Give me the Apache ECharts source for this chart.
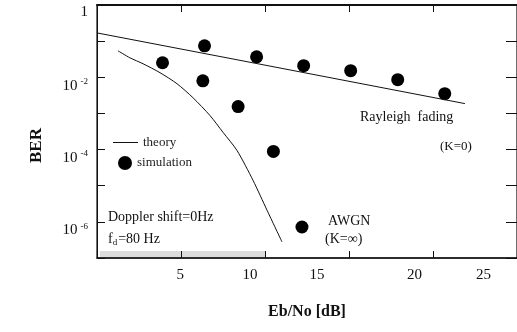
<!DOCTYPE html>
<html>
<head>
<meta charset="utf-8">
<script src="https://cdn.jsdelivr.net/npm/echarts@6/dist/echarts.min.js"></script>
<style>
html, body { margin: 0; padding: 0; background: #fff; }
#chart { width: 517px; height: 332px; }
</style>
</head>
<body>
<div id="chart"></div>
<script>
const serif = '"Liberation Serif", "DejaVu Serif", serif';

// x axis: tick labels sit a bit off the tick marks in the scan
const xTickLabels = ['5', '10', '15', '20', '25'];
const xLabelAt = [4.95, 9.1, 13.1, 18.9, 23.0];
const xTicks = [5, 10, 15, 20];
// y axis: labelled decades (exponents)
const yLabelExp = [0, -2, -4, -6];

// theory curves
const rayleighTheoryX = [0, 10, 21.9];
const rayleighTheoryBer = [0.169, 0.0217, 0.00187];
const awgnTheoryX = [1.25, 1.96, 2.74, 3.75, 4.76, 5.71, 6.73, 7.5, 8.33, 9.29, 10.12, 11.01];
const awgnTheoryBer = [0.054, 0.0346, 0.0237, 0.0134, 0.00665, 0.00273, 8.7e-4, 3.0e-4, 9.5e-5, 1.4e-5, 2.1e-6, 2.8e-7];

// simulation points
const rayleighSimX = [6.4, 9.5, 12.3, 15.1, 17.9, 20.7];
const rayleighSimBer = [0.0741, 0.0369, 0.0209, 0.0152, 0.00858, 0.00353];
const awgnSimX = [3.9, 6.3, 8.4, 10.5, 12.2];
const awgnSimBer = [0.0252, 0.0080, 0.00155, 8.9e-5, 7.2e-7];

const pairs = (xs, ys) => xs.map((x, i) => [x, ys[i]]);

const chart = echarts.init(document.getElementById('chart'), null, {renderer: 'canvas'});

const tickStyle = {color: '#111', width: 1};

chart.setOption({
	backgroundColor: '#fff',
	animation: false,
	textStyle: {fontFamily: serif, color: '#111'},
	// frame drawn by the grid border; its right side falls just off the canvas
	grid: {left: 97, top: 5, width: 421, height: 253, containLabel: false,
		show: true, borderColor: '#111', borderWidth: 1.2, backgroundColor: 'transparent'},
	legend: [
		{
			left: 113,
			top: 136,
			padding: 0,
			icon: 'rect',
			itemWidth: 25,
			itemHeight: 1,
			textStyle: {fontFamily: serif, fontSize: 13, color: '#222'},
			data: ['theory'],
		},
		{
			left: 118,
			top: 156,
			padding: 0,
			icon: 'circle',
			itemWidth: 14,
			itemHeight: 14,
			itemGap: 12,
			textStyle: {fontFamily: serif, fontSize: 13, color: '#222'},
			data: ['simulation'],
		},
	],
	xAxis: [
		{
			type: 'value',
			min: 0,
			max: 25,
			interval: 5,
			name: 'Eb/No [dB]',
			nameLocation: 'middle',
			nameGap: 46,
			nameTextStyle: {fontFamily: serif, fontWeight: 'bold', fontSize: 16, color: '#111'},
			axisLine: {show: true, lineStyle: {color: '#111', width: 1.5}},
			axisTick: {show: true, inside: true, length: 7, customValues: xTicks, lineStyle: tickStyle},
			axisLabel: {
				customValues: xLabelAt,
				margin: 10,
				fontSize: 15,
				color: '#111',
				formatter: (v) => {
					let best = 0;
					xLabelAt.forEach((p, i) => { if (Math.abs(p - v) < Math.abs(xLabelAt[best] - v)) best = i; });
					return xTickLabels[best];
				},
			},
			splitLine: {show: false},
		},
		{
			type: 'value',
			position: 'top',
			min: 0,
			max: 25,
			interval: 5,
			axisLine: {show: true, lineStyle: {color: '#111', width: 2}},
			axisTick: {show: true, inside: true, length: 7, customValues: xTicks, lineStyle: tickStyle},
			axisLabel: {show: false},
			splitLine: {show: false},
		},
	],
	yAxis: [
		{
			type: 'log',
			logBase: 10,
			min: 1e-7,
			max: 1,
			name: 'BER',
			nameLocation: 'middle',
			nameGap: 52,
			nameRotate: 90,
			nameTextStyle: {fontFamily: serif, fontWeight: 'bold', fontSize: 17, color: '#111', padding: [0, 28, 0, 0]},
			axisLine: {show: true, lineStyle: {color: '#111', width: 1}},
			axisTick: {show: true, inside: true, length: 8, lineStyle: tickStyle},
			axisLabel: {
				margin: 9,
				verticalAlign: 'top',
				color: '#111',
				formatter: (v) => {
					const e = Math.round(Math.log10(v));
					if (!yLabelExp.includes(e)) return '';
					if (e === 0) return '{b|1}';
					return '{b|10}{s|' + e + '}';
				},
				rich: {
					b: {fontFamily: serif, fontSize: 15, color: '#111'},
					s: {fontFamily: serif, fontSize: 9, color: '#111', padding: [0, 0, 8, 3]},
				},
			},
			splitLine: {show: false},
		},
		{
			type: 'log',
			logBase: 10,
			min: 1e-7,
			max: 1,
			position: 'right',
			axisLine: {show: false, onZero: false},
			axisTick: {show: true, inside: true, length: 11, lineStyle: tickStyle},
			axisLabel: {show: false},
			splitLine: {show: false},
		},
	],
	series: [
		{
			name: 'theory',
			type: 'line',
			data: pairs(rayleighTheoryX, rayleighTheoryBer),
			showSymbol: false,
			symbol: 'none',
			lineStyle: {color: '#111', width: 1},
			itemStyle: {color: '#111'},
		},
		{
			name: 'theory',
			type: 'line',
			data: pairs(awgnTheoryX, awgnTheoryBer),
			smooth: 0.25,
			showSymbol: false,
			symbol: 'none',
			lineStyle: {color: '#111', width: 1},
			itemStyle: {color: '#111'},
		},
		{
			name: 'simulation',
			type: 'scatter',
			data: pairs(rayleighSimX, rayleighSimBer),
			symbolSize: 13,
			itemStyle: {color: '#000', opacity: 1},
		},
		{
			name: 'simulation',
			type: 'scatter',
			data: pairs(awgnSimX, awgnSimBer),
			symbolSize: 13,
			itemStyle: {color: '#000', opacity: 1},
		},
	],
	graphic: [
		// top edge of the frame, in case the top axis line does not show
		{type: 'line', z: 50, shape: {x1: 97, y1: 5, x2: 517, y2: 5}, style: {stroke: '#111', lineWidth: 2}, silent: true},
		{type: 'rect', left: 100, top: 251, shape: {width: 165, height: 6}, style: {fill: 'rgba(140,140,140,0.3)'}, silent: true},
		{type: 'text', left: 360, top: 110, style: {text: 'Rayleigh  fading', font: '14px ' + serif, fill: '#111'}},
		{type: 'text', left: 440, top: 140, style: {text: '(K=0)', font: '13px ' + serif, fill: '#111'}},
		{type: 'text', left: 108, top: 210, style: {text: 'Doppler shift=0Hz', font: '14px ' + serif, fill: '#111'}},
		{
			type: 'text', left: 108, top: 232,
			style: {
				text: '{a|f}{d|d}{a|=80 Hz}',
				rich: {
					a: {font: '14px ' + serif, fill: '#111'},
					d: {font: '9px ' + serif, fill: '#111', padding: [8, 1, 0, 0]},
				},
			},
		},
		{type: 'text', left: 328, top: 214, style: {text: 'AWGN', font: '14px ' + serif, fill: '#111'}},
		{type: 'text', left: 325, top: 232, style: {text: '(K=\u221E)', font: '14px ' + serif, fill: '#111'}},
	],
});
</script>
</body>
</html>
